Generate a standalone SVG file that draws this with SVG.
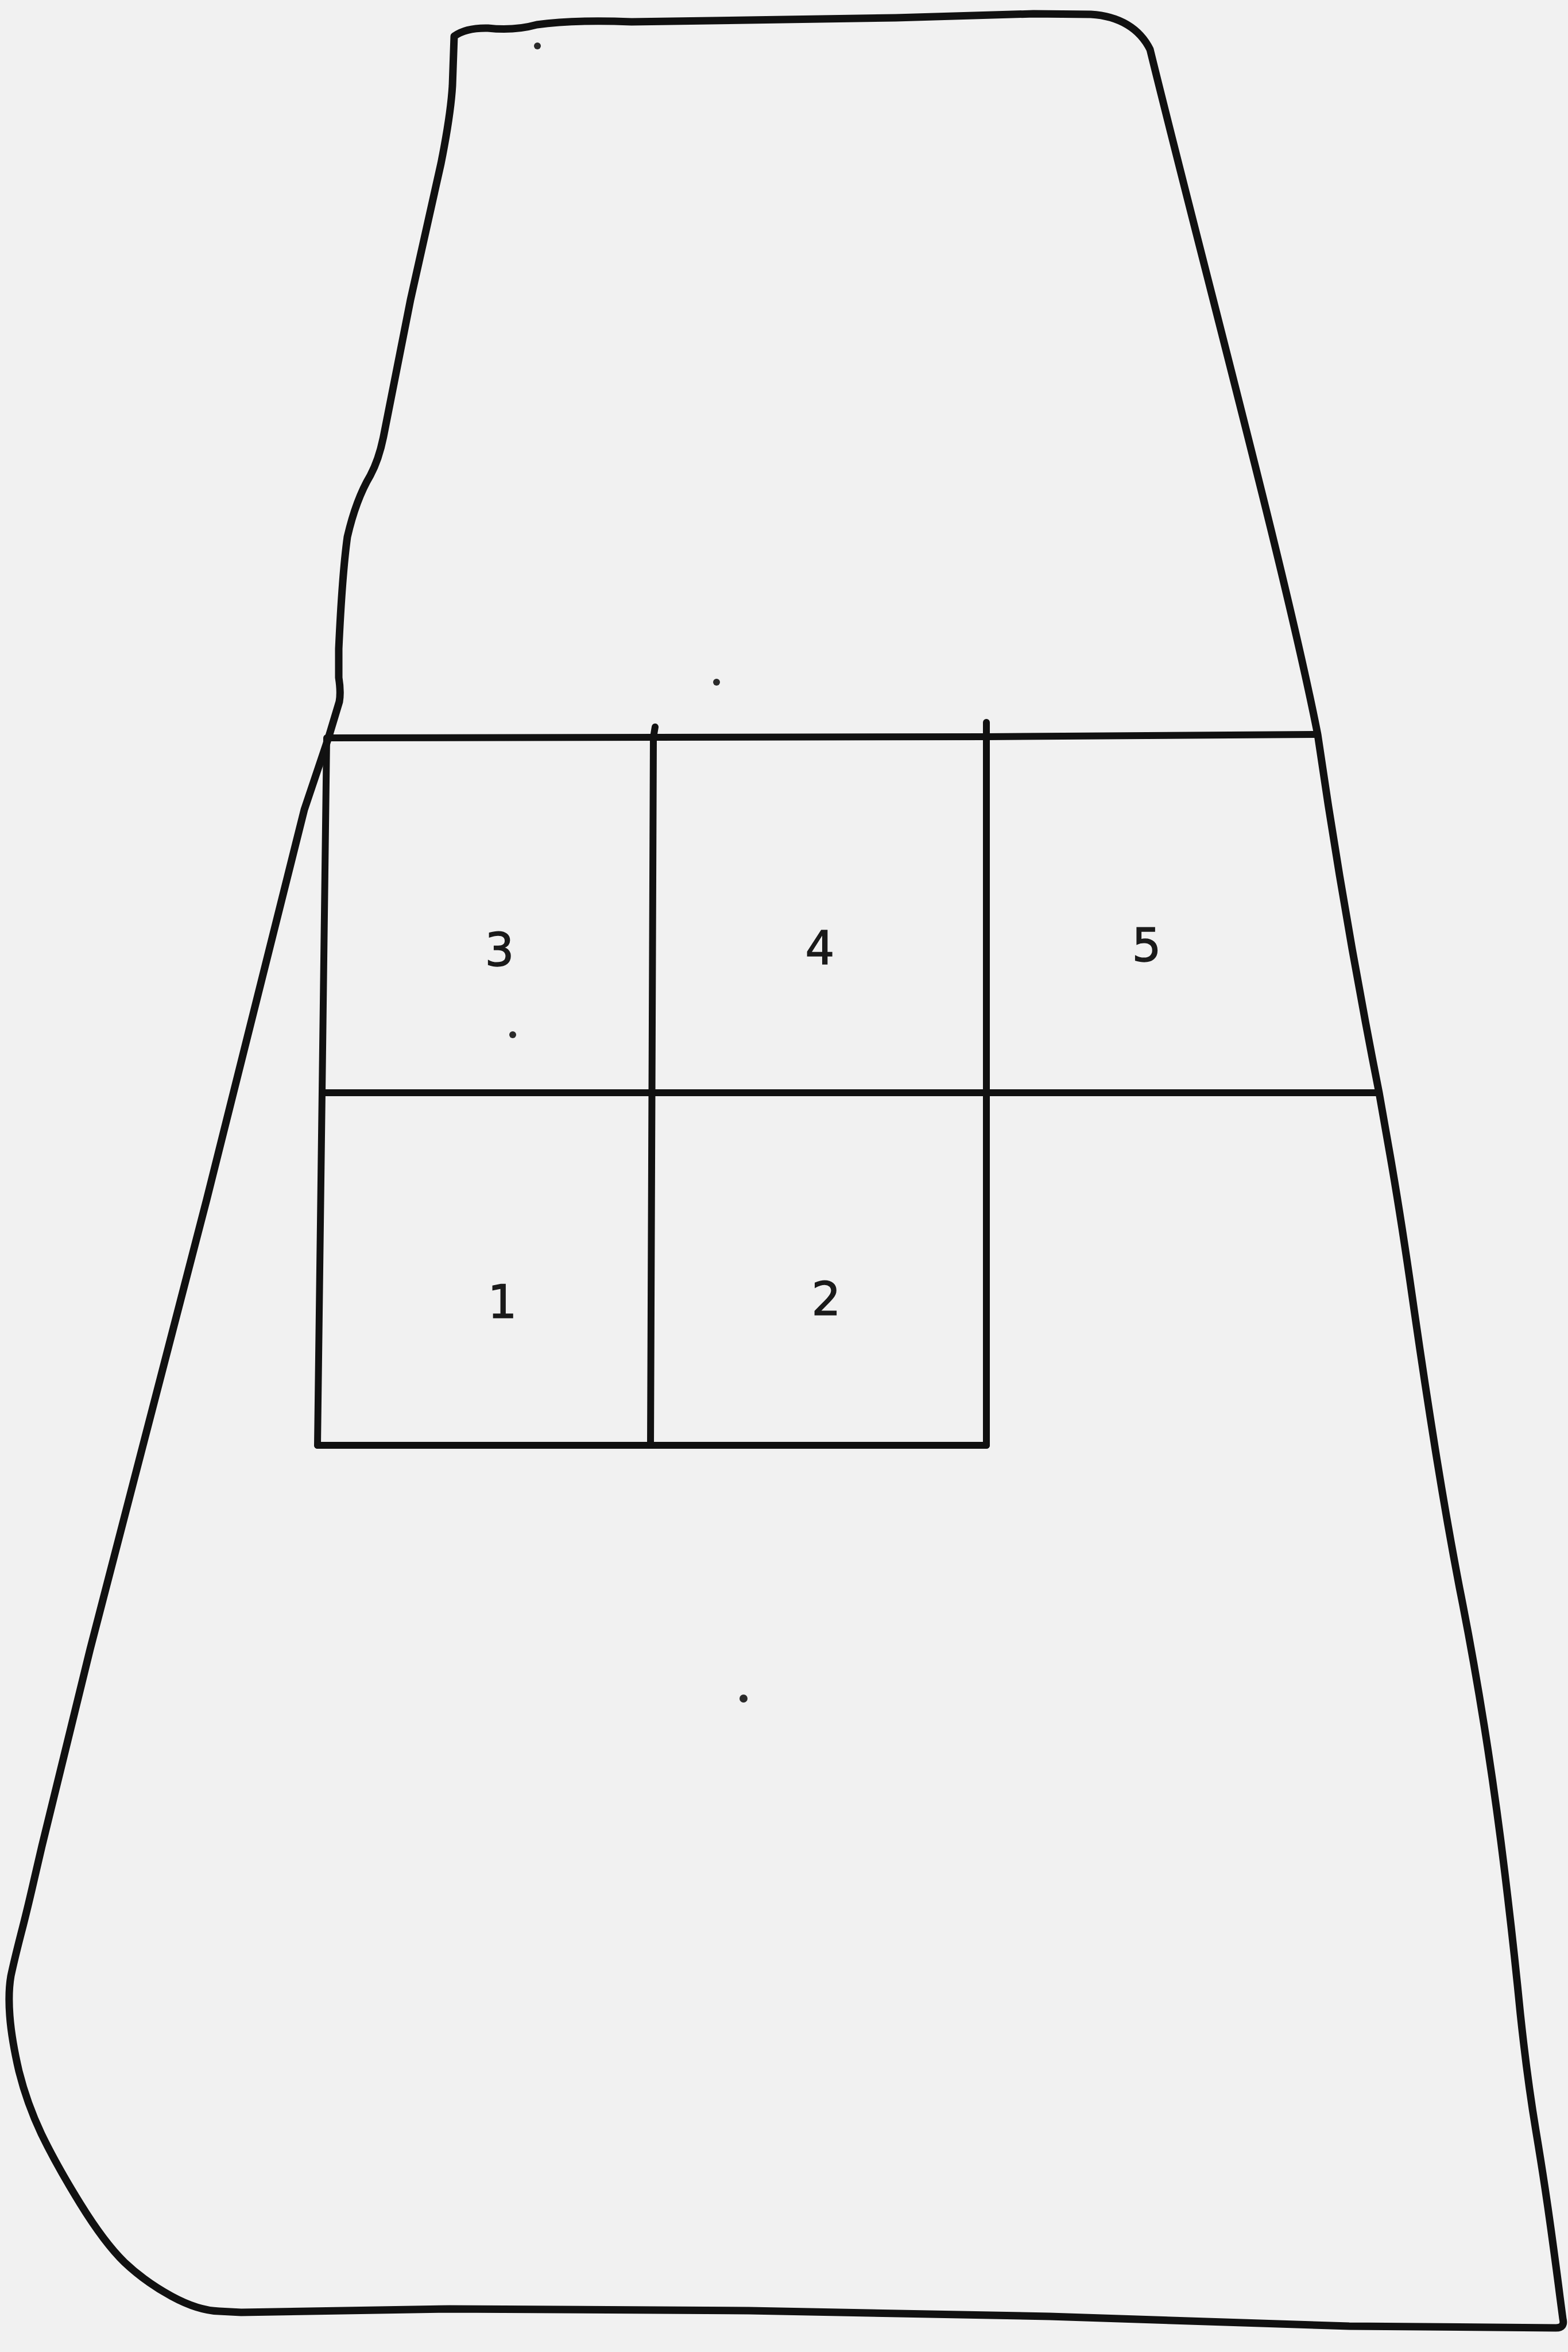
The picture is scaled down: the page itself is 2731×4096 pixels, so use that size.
<svg xmlns="http://www.w3.org/2000/svg" width="2731" height="4096" viewBox="0 0 2731 4096">
<style>
.ln{fill:none;stroke:#111111;stroke-width:12;stroke-linejoin:round;stroke-linecap:round}
.lbl{font-family:"DejaVu Sans","Liberation Sans",sans-serif;font-size:80px;fill:#1a1a1a;stroke:#1a1a1a;stroke-width:1.5;text-anchor:middle}
.dot{fill:#2a2a2a}
</style>
<rect x="0" y="0" width="2731" height="4096" fill="#f1f1f1"/>
<g id="outline">
<path class="ln" style="stroke-width:13" d="M791,63 Q812,48 850,49 Q895,54 935,43 Q1000,34 1100,38 L1560,31 L1800,24 L1900,25 C1950,28 1985,50 2003,86 C2100,480 2240,1000 2295,1279 Q2340,1590 2402,1903 L2421,2011 Q2440,2120 2460,2260 Q2480,2400 2500,2525 Q2520,2650 2542,2765 Q2565,2880 2585,3005 Q2605,3130 2621,3262 Q2637,3394 2648,3507 Q2660,3620 2675,3710 Q2690,3800 2701,3880 Q2712,3960 2717,4000 L2722,4038 Q2726,4054 2710,4054 L2350,4051 L1828,4034 L1305,4024 L783,4021 L420,4027 L382,4025 Q345,4024 299,3999 Q253,3974 217,3940 Q182,3906 140,3838 Q98,3770 72,3716 Q47,3663 33,3607 Q20,3551 17,3510 Q14,3470 19,3441 Q25,3413 36,3370 Q47,3328 60,3271 L73,3215 L157,2872 L360,2089 L530,1410 L572,1285 L591,1222 Q594,1205 590,1180 L590,1130 Q596,1000 605,935 Q620,870 645,828 Q660,800 668,760 L715,522 L768,285 Q785,200 788,149 Z"/>
</g>
<g id="connectors">
<path class="ln" d="M570,1285 L1718,1283 L2295,1279"/>
<path class="ln" d="M561,1903 L2402,1903"/>
<path class="ln" d="M553,2517 L1718,2517"/>
<path class="ln" d="M569,1285 L553,2517"/>
<path class="ln" d="M1141,1266 L1138,1284 L1133,2517"/>
<path class="ln" d="M1718,1258 L1718,2517"/>
</g>
<g id="cell-3"><text class="lbl" x="870" y="1682">3</text></g>
<g id="cell-4"><text class="lbl" x="1428" y="1679">4</text></g>
<g id="cell-5"><text class="lbl" x="1997" y="1674">5</text></g>
<g id="cell-1"><text class="lbl" x="875" y="2295">1</text></g>
<g id="cell-2"><text class="lbl" x="1439" y="2290">2</text></g>
<g id="marks">
<circle class="dot" cx="936" cy="80" r="6"/>
<circle class="dot" cx="1248" cy="1188" r="6"/>
<circle class="dot" cx="893" cy="1802" r="6"/>
<circle class="dot" cx="1295" cy="2958" r="7"/>
</g>
</svg>
